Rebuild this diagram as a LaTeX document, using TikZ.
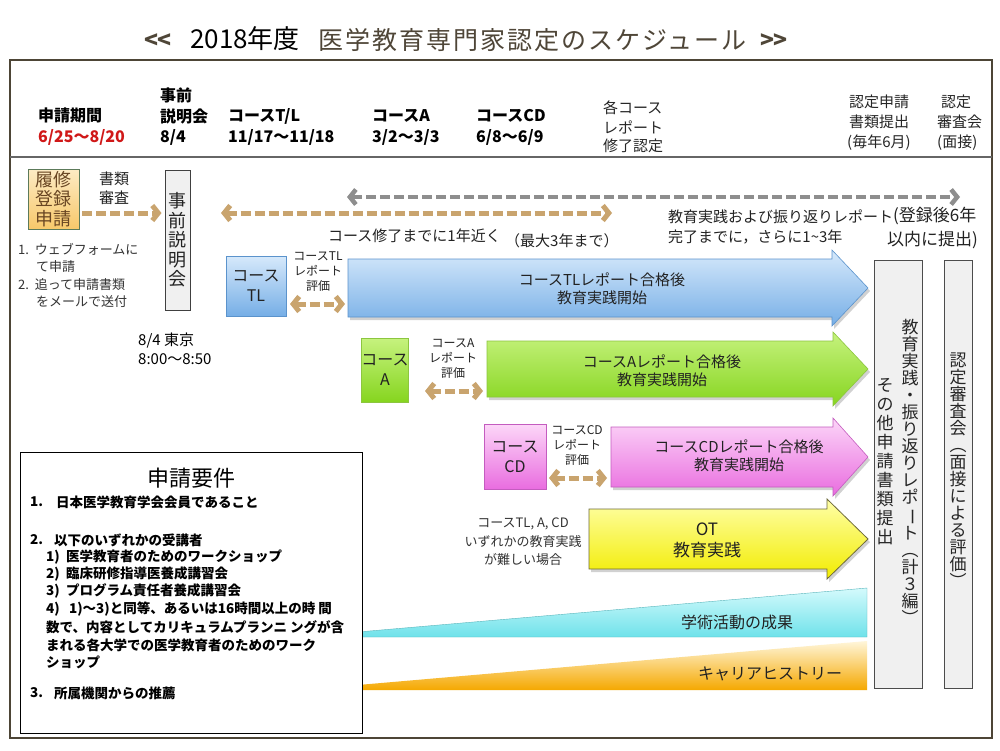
\documentclass[tikz,border=0pt]{standalone}
\usepackage{fontspec}
\usepackage{graphicx}
\setmainfont{Noto Sans CJK JP}
\usetikzlibrary{arrows.meta}
\definecolor{framec}{HTML}{4D4536}
\definecolor{blueT}{HTML}{D6E9FB}
\definecolor{blueB}{HTML}{76AEE6}
\definecolor{blueD}{HTML}{5B93CC}
\definecolor{greenT}{HTML}{C6F27E}
\definecolor{greenB}{HTML}{86D51F}
\definecolor{greenD}{HTML}{8CC63F}
\definecolor{pinkT}{HTML}{FCD6F8}
\definecolor{pinkB}{HTML}{E96CDF}
\definecolor{pinkD}{HTML}{C45CBF}
\definecolor{yellowT}{HTML}{FFFFA8}
\definecolor{yellowB}{HTML}{F2EC00}
\definecolor{yellowD}{HTML}{6E6A3A}
\definecolor{cyanT}{HTML}{D4FAFC}
\definecolor{cyanB}{HTML}{6FE2EA}
\definecolor{orangeT}{HTML}{FFF6DA}
\definecolor{orangeB}{HTML}{F5A800}
\definecolor{tanc}{HTML}{C9A46E}
\definecolor{greyarr}{HTML}{8E8E8E}
\definecolor{rirT}{HTML}{FDEBC4}
\definecolor{rirB}{HTML}{F7C86A}
\definecolor{rirD}{HTML}{5C7A5A}
\definecolor{titlec}{HTML}{4F4638}
\definecolor{redc}{HTML}{D01818}
\definecolor{txt}{HTML}{222222}
\newcommand{\fs}[2]{\fontsize{#1}{#2}\selectfont}
\newcommand{\vbar}{\rotatebox[origin=c]{-90}{ー}}
\newcommand{\fatarrow}[7]{%
  \path[#1] (#2,{#5-#6}) -- (#3,{#5-#6}) -- (#3,{#5-#7}) -- (#4,#5) -- (#3,{#5+#7}) -- (#3,{#5+#6}) -- (#2,{#5+#6}) -- cycle;}
\tikzset{
  every node/.style={inner sep=0pt, text=txt},
  hdr/.style={anchor=west, font=\bfseries\fs{16}{18}, text=black},
  hdrn/.style={anchor=west, font=\fs{15}{17}, text=black!85},
  tanarrow/.style={line width=5pt, draw=tanc, dash pattern=on 10pt off 4pt},
  greyarrow/.style={line width=4.5pt, draw=greyarr, dash pattern=on 10pt off 4pt},
  evaltxt/.style={font=\fs{12}{15}, align=center},
  req/.style={anchor=west, font=\bfseries\fs{13.5}{16}, text=black},
  vtext/.style={font=\fs{17}{17}, align=center, text=black!85},
  shadowc/.style={fill=black, opacity=0.18},
}
\begin{document}
\begin{tikzpicture}[x=1pt,y=-1pt, >={Straight Barb[length=6pt,width=15pt]}]
\useasboundingbox (0,0) rectangle (1000,750);
\fill[white] (0,0) rectangle (1000,750);

% Title
\node[anchor=west, font=\bfseries\fs{23}{26}, text=titlec] (tl) at (144,41) {<\kern-1pt<};
\node[anchor=west, font=\fs{26}{28}, text=black] (ty) at (190,39) {2018年度};
\node[anchor=west, font=\fs{25}{27}\addfontfeature{LetterSpace=8}, text=titlec] (tm) at (318,40) {医学教育専門家認定のスケジュール};
\node[anchor=west, font=\bfseries\fs{23}{26}, text=titlec] (tr) at (760,41) {>\kern-1pt>};

% Frame
\draw[framec, line width=2.5pt] (10,60) rectangle (992,738);
\draw[black!60, line width=1.5pt] (10,157) -- (992,157);

% Header
\node[hdr] (h1a) at (38,115) {申請期間};
\node[hdr, text=redc] (h1b) at (38,137) {6/25〜8/20};
\node[hdr] (h2a) at (160,95) {事前};
\node[hdr] (h2b) at (160,116) {説明会};
\node[hdr] (h2c) at (160,137) {8/4};
\node[hdr] (h3a) at (228,116) {コースT/L};
\node[hdr] (h3b) at (228,137) {11/17〜11/18};
\node[hdr] (h4a) at (372,116) {コースA};
\node[hdr] (h4b) at (372,137) {3/2〜3/3};
\node[hdr] (h5a) at (476,116) {コースCD};
\node[hdr] (h5b) at (476,137) {6/8〜6/9};
\node[hdrn] (h6a) at (603,108) {各コース};
\node[hdrn] (h6b) at (603,127) {レポート};
\node[hdrn] (h6c) at (603,146) {修了認定};
\node[hdrn] (h7a) at (849,102) {認定申請};
\node[hdrn] (h7b) at (849,122) {書類提出};
\node[hdrn] (h7c) at (847,143) {(毎年6月)};
\node[hdrn] (h8a) at (941,102) {認定};
\node[hdrn] (h8b) at (937,122) {審査会};
\node[hdrn] (h8c) at (937,143) {(面接)};

% Left column
\node[draw=rirD, line width=1pt, top color=rirT, bottom color=rirB, minimum width=51pt, minimum height=60pt, align=center, font=\fs{18}{19.5}, text=brown!55!black] (rir) at (53.5,199) {履修\\登録\\申請};
\node[font=\fs{15}{19}, align=center] (shinsa) at (114,188) {書類\\審査};
\node[draw=black!75, line width=1pt, fill=black!6, minimum width=25pt, minimum height=140pt, align=center, font=\fs{18}{19.5}] (jizen) at (177.5,240) {事\\前\\説\\明\\会};
\coordinate (s1) at (82,213);
\coordinate (s2) at ([xshift=-3pt]jizen.west |- s1);
\draw[tanarrow, ->] (s1) -- (s2);
\node[anchor=west, font=\fs{13}{15}, text=black!80] (l1) at (18,249) {1.\ \ ウェブフォームに};
\node[anchor=west, font=\fs{13}{15}, text=black!80] (l2) at (36,267) {て申請};
\node[anchor=west, font=\fs{13}{15}, text=black!80] (l3) at (18,285) {2.\ \ 追って申請書類};
\node[anchor=west, font=\fs{13}{15}, text=black!80] (l4) at (36,302) {をメールで送付};
\node[anchor=west, font=\fs{15}{17}, text=black] (tk1) at (138,341) {8/4 東京};
\node[anchor=west, font=\fs{15}{17}, text=black] (tk2) at (138,359) {8:00〜8:50};

% Long dashed arrows
\coordinate (g1) at (347,197);
\coordinate (g2) at (960,197);
\draw[greyarrow, <->] (g1) -- (g2);
\coordinate (t1) at (221,213);
\coordinate (t2) at (612,213);
\draw[tanarrow, <->] (t1) -- (t2);
\node[anchor=west, font=\fs{15}{17}] (yr1) at (328,236) {コース修了までに1年近く};
\node[anchor=west, font=\fs{15}{17}] (yr2) at (505,241) {（最大3年まで）};
\node[anchor=west, font=\fs{15}{17}] (yr3) at (668,217) {教育実践および振り返りレポート};
\node[anchor=west, font=\fs{17}{19}] (yr4) at (893,216) {(登録後6年};
\node[anchor=west, font=\fs{15}{17}] (yr5) at (668,237) {完了までに，さらに1{\char"7E}3年};
\node[anchor=west, font=\fs{17}{19}] (yr6) at (887,240) {以内に提出)};

% Wedges
\path[top color=cyanT, bottom color=cyanB, draw=cyanB!80!black, line width=0.4pt] (300,637) -- (867,588) -- (867,637) -- cycle;
\node[font=\fs{16}{18}] (gk) at (737,622) {学術活動の成果};
\path[top color=orangeT, bottom color=orangeB] (300,690) -- (867,641) -- (867,690) -- cycle;
\node[font=\fs{16}{18}] (ca) at (770,674) {キャリアヒストリー};

% Big arrows with shadows
\begin{scope}[shift={(2,3)}]
\fatarrow{shadowc}{348}{832}{868}{288}{29}{38}
\fatarrow{shadowc}{487}{833}{868}{369}{28}{37}
\fatarrow{shadowc}{611}{833}{868}{457}{30}{39}
\fatarrow{shadowc}{589}{827}{868}{539}{30}{40}
\end{scope}
\fatarrow{top color=blueT, bottom color=blueB, draw=blueD, line width=0.6pt}{348}{832}{868}{288}{29}{38}
\fatarrow{top color=greenT, bottom color=greenB, draw=greenD, line width=0.6pt}{487}{833}{868}{369}{28}{37}
\fatarrow{top color=pinkT, bottom color=pinkB, draw=pinkD, line width=0.6pt}{611}{833}{868}{457}{30}{39}
\fatarrow{top color=yellowT, bottom color=yellowB, draw=yellowD, line width=0.8pt}{589}{827}{868}{539}{30}{40}
\node[font=\fs{15}{18}, align=center] (bt) at (602,289) {コースTLレポート合格後\\教育実践開始};
\node[font=\fs{15}{18}, align=center] (gt) at (662,371) {コースAレポート合格後\\教育実践開始};
\node[font=\fs{15}{18}, align=center] (pt) at (739,456) {コースCDレポート合格後\\教育実践開始};
\node[font=\fs{17}{21}, align=center] (yt) at (707,540) {OT\\教育実践};

% Course boxes
\node[draw=blueD, line width=0.6pt, top color=blueT, bottom color=blueB, minimum width=60pt, minimum height=60pt, align=center, font=\fs{16}{20}] (tlbox) at (256,286) {コース\\TL};
\node[draw=greenD, line width=0.6pt, top color=greenT, bottom color=greenB, minimum width=46pt, minimum height=64pt, align=center, font=\fs{16}{20}] (abox) at (385,370) {コース\\A};
\node[draw=pinkD, line width=0.6pt, top color=pinkT, bottom color=pinkB, minimum width=62pt, minimum height=65pt, align=center, font=\fs{16}{20}] (cdbox) at (515,457) {コース\\CD};

% Evaluation labels and arrows
\node[evaltxt] (e1) at (318,272) {コースTL\\レポート\\評価};
\coordinate (e1a) at (290,304);
\coordinate (e1b) at (345,304);
\draw[tanarrow, <->] (e1a) -- (e1b);
\node[evaltxt] (e2) at (453,359) {コースA\\レポート\\評価};
\coordinate (e2a) at (425,391);
\coordinate (e2b) at (483,391);
\draw[tanarrow, <->] (e2a) -- (e2b);
\node[evaltxt] (e3) at (577,445) {コースCD\\レポート\\評価};
\coordinate (e3a) at (549,478);
\coordinate (e3b) at (607,478);
\draw[tanarrow, <->] (e3a) -- (e3b);

\node[font=\fs{13}{18.5}, align=center, text=black!80] (ot) at (523,542) {コースTL, A, CD\\いずれかの教育実践\\が難しい場合};

% Right vertical boxes
\node[draw=black!70, line width=1pt, fill=black!6, minimum width=48pt, minimum height=428pt] (vb1) at (898,474) {};
\node[draw=black!70, line width=1pt, fill=black!6, minimum width=28pt, minimum height=428pt] (vb2) at (958,474) {};
\node[vtext] (v1) at (910,472) {教\\育\\実\\践\\・\\振\\り\\返\\り\\レ\\ポ\\\vbar\\ト\\︵\\計\\３\\編\\︶};
\node[vtext, font=\fs{17}{19}] (v2) at (885,462) {そ\\の\\他\\申\\請\\書\\類\\提\\出};
\node[vtext] (v3) at (958,470) {認\\定\\審\\査\\会\\︵\\面\\接\\に\\よ\\る\\評\\価\\︶};

% Requirements box
\node[draw=black, line width=1pt, fill=white, minimum width=342pt, minimum height=281pt] (reqbox) at (191,592.5) {};
\node[font=\fs{22}{24}, text=black] (reqt) at (191,478) {申請要件};
\node[req] (r1n) at (30,502) {1.};
\node[req] (r1) at (56,502) {日本医学教育学会会員であること};
\node[req] (r2n) at (30,540) {2.};
\node[req] (r2) at (54,540) {以下のいずれかの受講者};
\node[req] (r3) at (46,557) {1)\ \ 医学教育者のためのワークショップ};
\node[req] (r4) at (46,574) {2)\ \ 臨床研修指導医養成講習会};
\node[req] (r5) at (46,591) {3)\ \ プログラム責任者養成講習会};
\node[req] (r6) at (46,609) {4)\ \ \ 1)〜3)と同等、あるいは16時間以上の時 間};
\node[req] (r7) at (46,627) {数で、内容としてカリキュラムプランニ ングが含};
\node[req] (r8) at (46,645) {まれる各大学での医学教育者のためのワーク};
\node[req] (r9) at (46,662) {ショップ};
\node[req] (r10n) at (30,693) {3.};
\node[req] (r10) at (54,693) {所属機関からの推薦};
\end{tikzpicture}
\end{document}
